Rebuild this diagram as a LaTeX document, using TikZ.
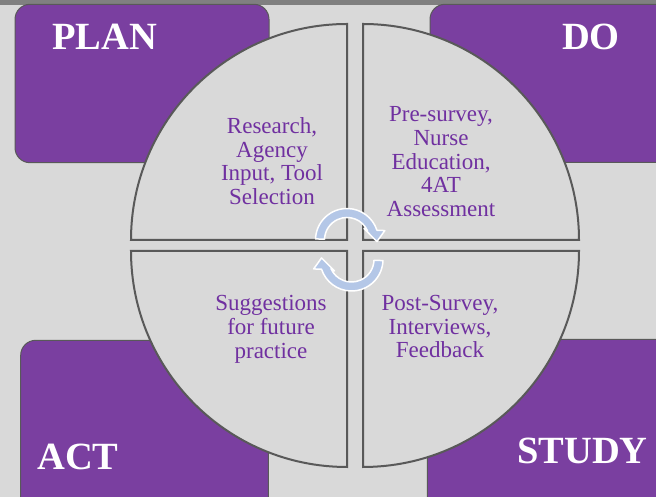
\documentclass[tikz,border=0pt]{standalone}
\usepackage{fontspec}
\setmainfont{Liberation Serif}
\definecolor{canvasgrey}{HTML}{D9D9D9}
\definecolor{bargrey}{HTML}{808080}
\definecolor{edgegrey}{HTML}{595959}
\definecolor{phasepurple}{HTML}{7A3FA0}
\definecolor{textpurple}{HTML}{7030A0}
\definecolor{cycleblue}{HTML}{B4C7E7}
\tikzset{phase box/.style={draw=edgegrey, fill=phasepurple, line width=1pt, rounded corners=15pt},
  quarter/.style={draw=edgegrey, fill=canvasgrey, line width=2pt},
  phase label/.style={anchor=base, text=white, inner sep=0pt, font=\fontsize{38.5}{46}\selectfont\bfseries},
  step text/.style={align=center, text=textpurple, inner sep=0pt, font=\fontsize{23}{23.7}\selectfont},
  cycle arrow/.style={fill=cycleblue, draw=white, line width=1.5pt, line join=round}}

\begin{document}
\begin{tikzpicture}[x=1pt, y=1pt]
        \useasboundingbox (0,0) rectangle (656,497);
        \clip (0,0) rectangle (656,497);
        \fill [canvasgrey] (0,0) rectangle (656,497);
        \fill [bargrey] (0,492) rectangle (656,497);

        % the four phase boxes, cut by the page edge
        \draw [phase box] (15,334.3) rectangle (269,492.7);
        \draw [phase box] (430,334.7) rectangle (690,492.7);
        \draw [phase box] (20.7,-30) rectangle (268.3,156.7);
        \draw [phase box] (427.3,-30) rectangle (690,157.7);

        % quarters of the wheel
        \draw [quarter] (347,257) -- (131,257) arc [start angle=180, end angle=90, radius=216] -- cycle;
        \draw [quarter] (363,257) -- (363,473) arc [start angle=90, end angle=0, radius=216] -- cycle;
        \draw [quarter] (347,246) -- (131,246) arc [start angle=180, end angle=270, radius=216] -- cycle;
        \draw [quarter] (363,246) -- (363,30) arc [start angle=270, end angle=360, radius=216] -- cycle;

        \coordinate (hub) at (349.25,247.25);
        \foreach \turn in {0,180}{
          \begin{scope}[rotate around={\turn:(hub)}, shift={(347,257)}]
            \draw [cycle arrow] (178:31.5) arc [start angle=178, end angle=18, radius=31.5]
              -- (14:39) -- (-3:30) -- (34:20.5) -- (24:22.5)
              arc [start angle=24, end angle=178, radius=22.5] -- cycle;
          \end{scope}
        }

        \node [phase label] (plan) at (104.5,447) {PLAN};
        \node [phase label] (do) at (591,447) {DO};
        \node [phase label] (act) at (78,27) {ACT};
        \node [phase label] (study) at (582.5,33) {STUDY};

        \node [step text] (plan text) at (272,336) {Research,\\Agency\\Input, Tool\\Selection};
        \node [step text] (do text) at (441,335.3) {Pre-survey,\\Nurse\\Education,\\4AT\\Assessment};
        \node [step text] (act text) at (271,167.7) {Suggestions\\for future\\practice};
        \node [step text] (study text) at (440,170.2) {Post-Survey,\\Interviews,\\Feedback};
\end{tikzpicture}
\end{document}
